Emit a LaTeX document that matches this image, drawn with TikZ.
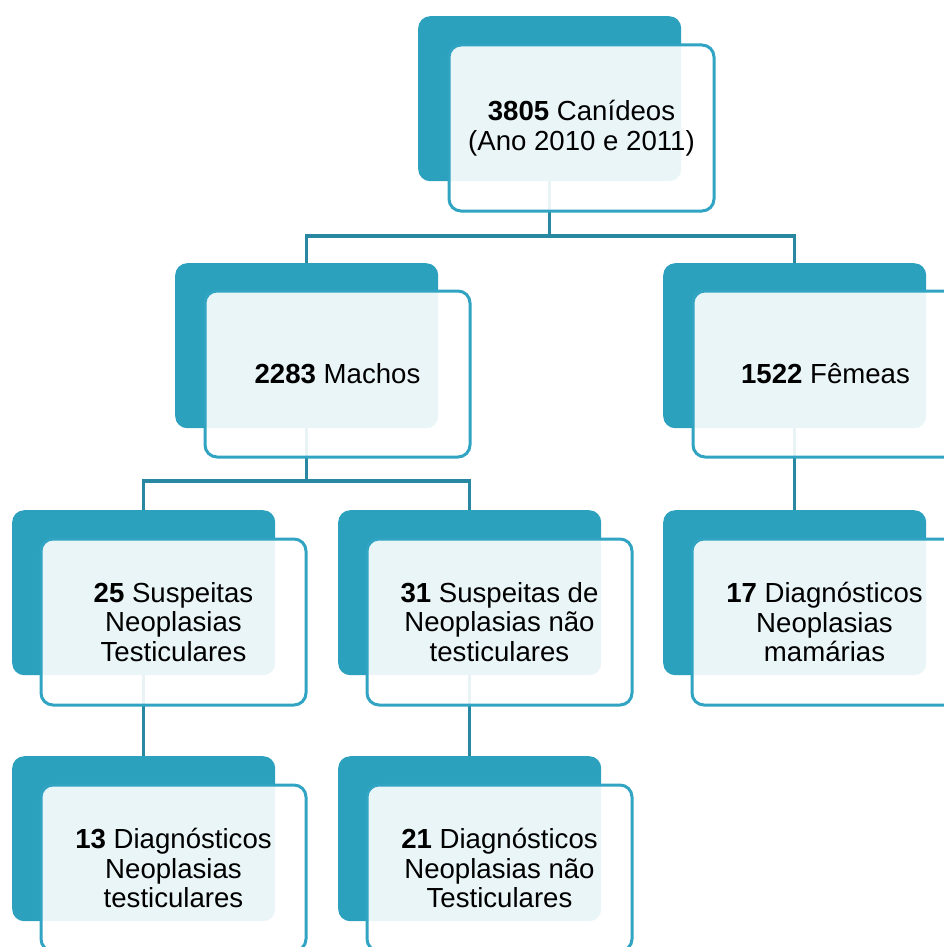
\documentclass[tikz,border=0pt]{standalone}
\usepackage{fontspec}
\setmainfont{Liberation Sans}
\pgfdeclarelayer{bg}
\pgfsetlayers{bg,main}
\definecolor{tealback}{RGB}{44,161,190}
\definecolor{tealborder}{RGB}{48,164,194}
\definecolor{tealline}{RGB}{40,136,162}
\begin{document}
\begin{tikzpicture}[x=1pt,y=-1pt,
  backbox/.style={rectangle, rounded corners=12pt, fill=tealback, draw=none,
    minimum width=263pt, minimum height=165pt, inner sep=0pt, anchor=north west},
  frontbox/.style={rectangle, rounded corners=12pt, draw=tealborder, line width=3pt,
    fill=white, fill opacity=0.9, text opacity=1,
    minimum width=265pt, minimum height=166pt, inner sep=0pt, anchor=north west,
    align=center, font=\fontsize{27.6}{29.5}\selectfont},
  conn/.style={draw=tealline, line width=3.5pt}]
\useasboundingbox (0,0) rectangle (944,947);
\clip (0,0) rectangle (944,947);
% back boxes
\node[backbox] (b0) at (418,16) {};
\node[backbox] (b1) at (175,263) {};
\node[backbox] (b2) at (663,263) {};
\node[backbox] (b3) at (12,510) {};
\node[backbox] (b4) at (338,510) {};
\node[backbox] (b5) at (663,510) {};
\node[backbox] (b6) at (12,756) {};
\node[backbox] (b7) at (338,756) {};
% front boxes
\node[frontbox] (f0) at (447.5,43.5) {\textbf{3805} Canídeos\\(Ano 2010 e 2011)};
\node[frontbox] (f1) at (203.5,289.5) {\textbf{2283} Machos};
\node[frontbox] (f2) at (691.5,289.5) {\textbf{1522} Fêmeas};
\node[frontbox] (f3) at (39.5,537.5) {\textbf{25} Suspeitas\\Neoplasias\\Testiculares};
\node[frontbox] (f4) at (365.5,537.5) {\textbf{31} Suspeitas de\\Neoplasias não\\testiculares};
\node[frontbox] (f5) at (690.5,537.5) {\textbf{17} Diagnósticos\\Neoplasias\\mamárias};
\node[frontbox] (f6) at (39.5,783.5) {\textbf{13} Diagnósticos\\Neoplasias\\testiculares};
\node[frontbox] (f7) at (365.5,783.5) {\textbf{21} Diagnósticos\\Neoplasias não\\Testiculares};
% junction coordinates
\coordinate (j1) at (b1.center |- 0,236);
\coordinate (j2) at (b2.center |- 0,236);
\coordinate (j3) at (b3.center |- 0,481);
\coordinate (j4) at (b4.center |- 0,481);
\begin{pgfonlayer}{bg}
\draw[conn] (b0.center) |- (j1) -- (b1.center);
\draw[conn] (b0.center) |- (j2) -- (b2.center);
\draw[conn] (b1.center) |- (j3) -- (b3.center);
\draw[conn] (b1.center) |- (j4) -- (b4.center);
\draw[conn] (b2.center) -- (b5.center);
\draw[conn] (b3.center) -- (b6.center);
\draw[conn] (b4.center) -- (b7.center);
\end{pgfonlayer}
\end{tikzpicture}
\end{document}
